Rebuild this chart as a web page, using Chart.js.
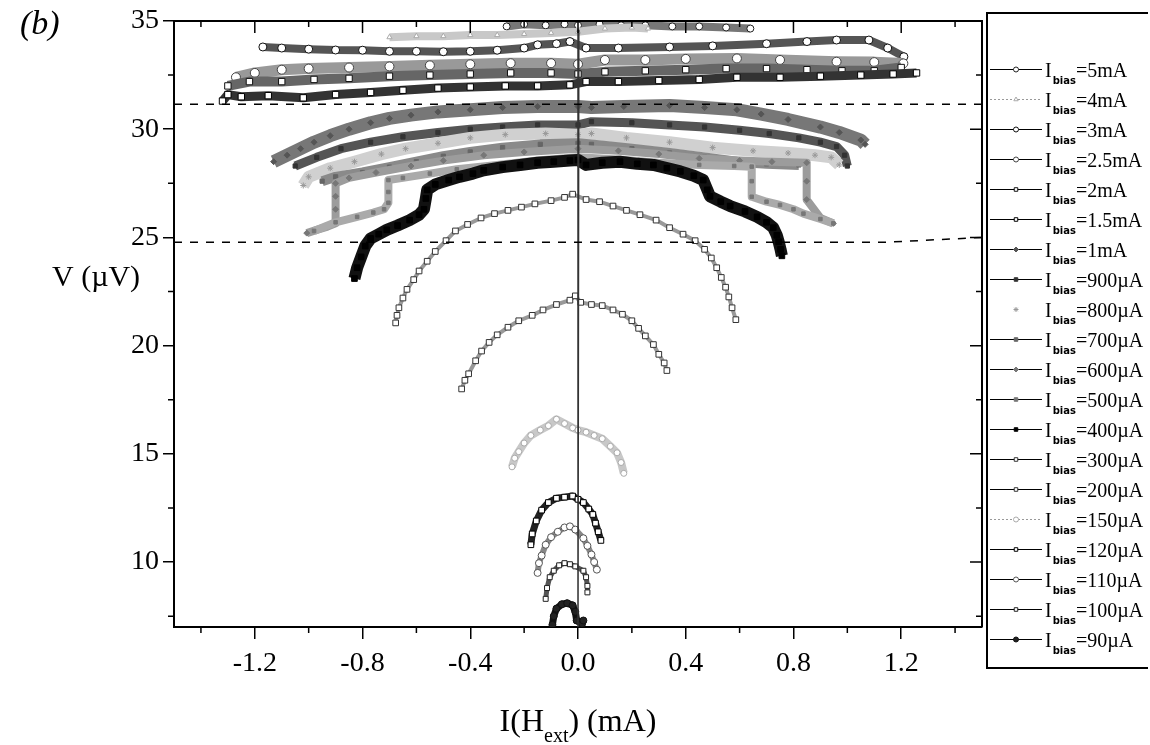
<!DOCTYPE html>
<html>
<head>
<meta charset="utf-8">
<title>V vs I(Hext)</title>
<script src="https://cdn.jsdelivr.net/npm/chart.js@4.4.1/dist/chart.umd.min.js"></script>
<style>
  html, body { margin: 0; padding: 0; background: #fff; }
</style>
</head>
<body>
<canvas id="chart" width="1150" height="745"></canvas>
<script>
// Axis ticks
const xTickValues = [-1.2, -0.8, -0.4, 0.0, 0.4, 0.8, 1.2]
const xMinorValues = [-1.4, -1.0, -0.6, -0.2, 0.2, 0.6, 1.0, 1.4]
const yTickValues = [10, 15, 20, 25, 30, 35]
const yMinorValues = [7.5, 12.5, 17.5, 22.5, 27.5, 32.5]

// Legend order (top to bottom)
const biasLabels = ["5mA", "4mA", "3mA", "2.5mA", "2mA", "1.5mA", "1mA", "900\u00b5A", "800\u00b5A", "700\u00b5A",
  "600\u00b5A", "500\u00b5A", "400\u00b5A", "300\u00b5A", "200\u00b5A", "150\u00b5A", "120\u00b5A", "110\u00b5A", "100\u00b5A", "90\u00b5A"]

// Series: [I(Hext) mA, V uV]
const ib5mA = [[-0.265, 34.75], [-0.2, 34.85], [-0.12, 34.8], [-0.05, 34.85], [0.0, 34.8], [0.08, 34.85], [0.16, 34.8],
  [0.25, 34.8], [0.35, 34.75], [0.45, 34.75], [0.55, 34.7], [0.64, 34.65]]
const ib4mA = [[-0.7, 34.25], [-0.6, 34.3], [-0.5, 34.3], [-0.4, 34.35], [-0.3, 34.35], [-0.2, 34.4], [-0.1, 34.45],
  [0.0, 34.5], [0.1, 34.65], [0.2, 34.7], [0.26, 34.65]]
const ib3mA = [[-1.17, 33.8], [-1.1, 33.75], [-1.0, 33.7], [-0.9, 33.66], [-0.8, 33.65], [-0.7, 33.6], [-0.6, 33.6],
  [-0.5, 33.58], [-0.4, 33.6], [-0.3, 33.65], [-0.2, 33.75], [-0.15, 33.9], [-0.08, 33.95], [-0.03, 34.05],
  [0.03, 33.75], [0.15, 33.75], [0.34, 33.8], [0.5, 33.85], [0.7, 33.95], [0.85, 34.05], [0.96, 34.12],
  [1.08, 34.12], [1.15, 33.75], [1.21, 33.35]]
const ib2_5mA = [[-1.27, 32.4], [-1.2, 32.6], [-1.1, 32.75], [-1.0, 32.8], [-0.85, 32.85], [-0.7, 32.9], [-0.55, 32.95],
  [-0.4, 33.0], [-0.25, 33.05], [-0.1, 33.05], [0.0, 33.0], [0.1, 33.2], [0.25, 33.2], [0.4, 33.25], [0.59, 33.27],
  [0.75, 33.2], [0.96, 33.12], [1.1, 33.1], [1.208, 33.04]]
const ib2mA = [[-1.3, 32.0], [-1.22, 32.2], [-1.1, 32.2], [-0.98, 32.3], [-0.85, 32.35], [-0.7, 32.45], [-0.55, 32.5],
  [-0.4, 32.55], [-0.25, 32.6], [-0.1, 32.6], [0.0, 32.55], [0.1, 32.65], [0.25, 32.7], [0.4, 32.75], [0.55, 32.8],
  [0.7, 32.8], [0.85, 32.75], [0.98, 32.7], [1.1, 32.7], [1.2, 32.85]]
const ib1_5mA = [[-1.32, 31.3], [-1.3, 31.6], [-1.25, 31.5], [-1.15, 31.55], [-1.02, 31.45], [-0.9, 31.6], [-0.77, 31.7],
  [-0.65, 31.8], [-0.52, 31.9], [-0.4, 31.95], [-0.27, 32.0], [-0.15, 32.0], [-0.03, 32.05], [0.03, 32.2],
  [0.15, 32.2], [0.3, 32.25], [0.45, 32.3], [0.59, 32.4], [0.75, 32.4], [0.9, 32.45], [1.05, 32.5], [1.17, 32.55],
  [1.257, 32.6]]
const ib1mA = [[-1.13, 28.5], [-1.08, 28.8], [-1.03, 29.1], [-0.98, 29.4], [-0.92, 29.7], [-0.85, 30.0], [-0.77, 30.3],
  [-0.7, 30.5], [-0.62, 30.65], [-0.52, 30.8], [-0.4, 30.9], [-0.28, 31.0], [-0.15, 31.05], [0.0, 31.05],
  [0.05, 31.0], [0.17, 31.05], [0.34, 31.1], [0.47, 31.0], [0.59, 30.9], [0.68, 30.7], [0.78, 30.45], [0.9, 30.1],
  [0.97, 29.85], [1.05, 29.5], [1.066, 29.3]]
const ib900 = [[-1.05, 28.3], [-0.97, 28.7], [-0.88, 29.1], [-0.77, 29.4], [-0.65, 29.65], [-0.52, 29.85], [-0.4, 30.0],
  [-0.28, 30.1], [-0.15, 30.2], [0.0, 30.2], [0.05, 30.35], [0.2, 30.3], [0.34, 30.2], [0.47, 30.1], [0.6, 29.95],
  [0.71, 29.8], [0.82, 29.6], [0.9, 29.4], [0.96, 29.2], [0.99, 28.8], [1.0, 28.3]]
const ib800 = [[-1.02, 27.4], [-1.0, 27.8], [-0.92, 28.2], [-0.83, 28.5], [-0.73, 28.85], [-0.64, 29.1], [-0.52, 29.35],
  [-0.4, 29.6], [-0.27, 29.75], [-0.12, 29.8], [0.0, 29.75], [0.05, 29.8], [0.18, 29.6], [0.34, 29.4], [0.5, 29.15],
  [0.65, 29.0], [0.78, 28.9], [0.88, 28.8], [0.94, 28.7], [0.97, 28.35]]
const ib700 = [[-0.95, 27.6], [-0.9, 27.8], [-0.8, 28.0], [-0.7, 28.25], [-0.6, 28.5], [-0.5, 28.75], [-0.4, 28.95],
  [-0.28, 29.15], [-0.14, 29.3], [0.0, 29.35], [0.05, 29.3], [0.2, 29.1], [0.34, 28.9], [0.47, 28.7], [0.59, 28.5],
  [0.7, 28.4], [0.82, 28.35]]
const ib600 = [[-1.007, 25.2], [-0.97, 25.35], [-0.93, 25.5], [-0.9, 25.65], [-0.9, 26.3], [-0.9, 26.9], [-0.9, 27.5],
  [-0.85, 27.75], [-0.75, 28.0], [-0.62, 28.3], [-0.5, 28.55], [-0.35, 28.8], [-0.2, 28.95], [0.0, 29.1],
  [0.15, 29.0], [0.3, 28.85], [0.45, 28.65], [0.6, 28.55], [0.72, 28.5], [0.849, 28.45], [0.849, 27.6],
  [0.849, 26.75], [0.9, 25.9], [0.948, 25.65]]
const ib500 = [[-0.98, 25.3], [-0.9, 25.7], [-0.82, 25.95], [-0.76, 26.15], [-0.72, 26.3], [-0.704, 26.6], [-0.704, 27.1],
  [-0.704, 27.65], [-0.65, 27.75], [-0.55, 27.95], [-0.45, 28.15], [-0.3, 28.35], [-0.15, 28.55], [0.0, 28.7],
  [0.15, 28.6], [0.3, 28.45], [0.45, 28.35], [0.58, 28.3], [0.645, 28.27], [0.645, 27.6], [0.645, 26.88],
  [0.7, 26.65], [0.75, 26.5], [0.8, 26.3], [0.837, 26.1], [0.9, 25.85], [0.948, 25.65]]
const ib400 = [[-0.83, 23.1], [-0.82, 23.6], [-0.805, 24.1], [-0.79, 24.6], [-0.77, 24.95], [-0.74, 25.15], [-0.71, 25.35],
  [-0.67, 25.55], [-0.625, 25.8], [-0.59, 26.05], [-0.572, 26.3], [-0.565, 26.8], [-0.56, 27.2], [-0.53, 27.45],
  [-0.48, 27.65], [-0.44, 27.8], [-0.39, 27.95], [-0.35, 28.1], [-0.28, 28.25], [-0.215, 28.35], [-0.15, 28.45],
  [-0.09, 28.5], [-0.03, 28.55], [0.0, 28.58], [0.03, 28.35], [0.09, 28.45], [0.156, 28.5], [0.22, 28.4],
  [0.28, 28.35], [0.33, 28.2], [0.38, 28.05], [0.43, 27.85], [0.465, 27.65], [0.48, 27.2], [0.49, 26.9],
  [0.53, 26.65], [0.565, 26.45], [0.62, 26.2], [0.665, 25.95], [0.7, 25.7], [0.725, 25.45], [0.738, 25.1],
  [0.745, 24.8], [0.752, 24.45], [0.757, 24.15]]
const ib300 = [[-0.677, 21.05], [-0.672, 21.4], [-0.665, 21.75], [-0.65, 22.2], [-0.635, 22.6], [-0.61, 23.05], [-0.59, 23.45],
  [-0.56, 23.9], [-0.53, 24.35], [-0.49, 24.85], [-0.455, 25.3], [-0.41, 25.6], [-0.36, 25.9], [-0.31, 26.1],
  [-0.26, 26.25], [-0.21, 26.4], [-0.16, 26.55], [-0.1, 26.7], [-0.05, 26.85], [-0.02, 27.0], [0.03, 26.75],
  [0.08, 26.65], [0.13, 26.45], [0.18, 26.25], [0.23, 26.05], [0.29, 25.8], [0.34, 25.45], [0.39, 25.15],
  [0.435, 24.85], [0.47, 24.45], [0.495, 24.05], [0.515, 23.6], [0.532, 23.15], [0.548, 22.7], [0.56, 22.25],
  [0.572, 21.75], [0.586, 21.2]]
const ib200 = [[-0.432, 18.0], [-0.42, 18.4], [-0.406, 18.7], [-0.38, 19.3], [-0.358, 19.75], [-0.33, 20.15], [-0.3, 20.5],
  [-0.26, 20.85], [-0.22, 21.15], [-0.17, 21.4], [-0.13, 21.65], [-0.08, 21.9], [-0.03, 22.1], [-0.01, 22.3],
  [0.01, 22.0], [0.05, 21.9], [0.09, 21.85], [0.13, 21.65], [0.165, 21.45], [0.2, 21.15], [0.225, 20.8],
  [0.25, 20.45], [0.28, 20.05], [0.3, 19.6], [0.32, 19.2], [0.33, 18.85]]
const ib150 = [[-0.245, 14.4], [-0.235, 14.8], [-0.22, 15.1], [-0.2, 15.5], [-0.175, 15.85], [-0.14, 16.1], [-0.11, 16.3],
  [-0.08, 16.6], [-0.05, 16.4], [-0.02, 16.2], [0.0, 16.1], [0.03, 16.0], [0.06, 15.85], [0.09, 15.7], [0.12, 15.35],
  [0.145, 15.05], [0.16, 14.6], [0.17, 14.1]]
const ib120 = [[-0.175, 10.8], [-0.17, 11.3], [-0.155, 11.9], [-0.135, 12.4], [-0.11, 12.75], [-0.08, 12.95], [-0.05, 13.0],
  [-0.02, 13.05], [0.0, 12.9], [0.02, 12.75], [0.04, 12.45], [0.055, 12.2], [0.065, 11.8], [0.075, 11.4], [0.085, 11.0]]
const ib110 = [[-0.15, 9.5], [-0.145, 9.95], [-0.135, 10.3], [-0.12, 10.8], [-0.1, 11.15], [-0.075, 11.4], [-0.05, 11.6],
  [-0.03, 11.65], [-0.01, 11.5], [0.02, 11.1], [0.035, 10.75], [0.05, 10.35], [0.06, 10.0], [0.07, 9.65]]
const ib100 = [[-0.12, 8.3], [-0.115, 8.8], [-0.105, 9.3], [-0.09, 9.6], [-0.07, 9.85], [-0.05, 9.95], [-0.03, 9.9],
  [-0.01, 9.8], [0.02, 9.6], [0.03, 9.3], [0.035, 8.9], [0.035, 8.6]]
const ib90 = [[-0.095, 7.1], [-0.09, 7.5], [-0.08, 7.85], [-0.06, 8.05], [-0.04, 8.1], [-0.02, 8.0], [-0.01, 7.7],
  [-0.005, 7.3], [0.015, 7.15], [0.02, 7.3]]

// Reference lines
const zeroLine = [[0.003, 34.6], [0.0, 7.0]]
const dashUpper = [[-1.5, 31.15], [1.5, 31.15]]
const dashLower = [[-1.5, 24.78], [1.15, 24.78], [1.5, 25.0]]

const series = [ib5mA, ib4mA, ib3mA, ib2_5mA, ib2mA, ib1_5mA, ib1mA, ib900, ib800, ib700,
  ib600, ib500, ib400, ib300, ib200, ib150, ib120, ib110, ib100, ib90]

// line colour, line width, marker, marker radius, marker fill, marker edge
const seriesStyle = [
  { line: "#777", w: 8, pt: "circle", r: 3.5, fill: "#fff", edge: "#222" },
  { line: "#c8c8c8", w: 8, pt: "triangle", r: 3, fill: "#fff", edge: "#aaa", dash: true },
  { line: "#555", w: 8, pt: "circle", r: 4, fill: "#fff", edge: "#111" },
  { line: "#999", w: 11, pt: "circle", r: 4.5, fill: "#fff", edge: "#444" },
  { line: "#666", w: 10, pt: "rect", r: 4.5, fill: "#fff", edge: "#111" },
  { line: "#333", w: 9, pt: "rect", r: 4.5, fill: "#fff", edge: "#000" },
  { line: "#777", w: 13, pt: "rectRot", r: 3, fill: "#555", edge: "#555" },
  { line: "#555", w: 9, pt: "rect", r: 3, fill: "#333", edge: "#333" },
  { line: "#d0d0d0", w: 12, pt: "star", r: 3, fill: "#999", edge: "#999", noLegendLine: true },
  { line: "#8a8a8a", w: 10, pt: "rect", r: 3, fill: "#666", edge: "#666" },
  { line: "#9c9c9c", w: 8, pt: "rectRot", r: 3, fill: "#777", edge: "#777" },
  { line: "#aaa", w: 8, pt: "rect", r: 2.5, fill: "#777", edge: "#777" },
  { line: "#111", w: 12, pt: "rect", r: 4, fill: "#000", edge: "#000" },
  { line: "#999", w: 4, pt: "rect", r: 4, fill: "#fff", edge: "#333" },
  { line: "#999", w: 4, pt: "rect", r: 4, fill: "#fff", edge: "#333" },
  { line: "#c8c8c8", w: 8, pt: "circle", r: 3, fill: "#fff", edge: "#aaa", dash: true },
  { line: "#222", w: 7, pt: "rect", r: 4, fill: "#fff", edge: "#000" },
  { line: "#888", w: 6, pt: "circle", r: 3.5, fill: "#fff", edge: "#555" },
  { line: "#555", w: 5, pt: "rect", r: 3.5, fill: "#fff", edge: "#222" },
  { line: "#111", w: 7, pt: "circle", r: 3.5, fill: "#222", edge: "#111" },
]

const toXY = (arr) => arr.map(([x, y]) => ({ x, y }))

const datasets = series.map((data, i) => ({
  label: "Ibias=" + biasLabels[i],
  data: toXY(data),
  showLine: true,
  borderColor: seriesStyle[i].line,
  borderWidth: seriesStyle[i].w,
  borderJoinStyle: "round",
  pointStyle: seriesStyle[i].pt,
  pointRadius: seriesStyle[i].r,
  pointBackgroundColor: seriesStyle[i].fill,
  pointBorderColor: seriesStyle[i].edge,
  pointBorderWidth: 1,
  order: 20 - i,
}))

datasets.push(
  { label: "zero", data: toXY(zeroLine), showLine: true, borderColor: "#333", borderWidth: 1.5, pointRadius: 0, order: -1 },
  { label: "upper", data: toXY(dashUpper), showLine: true, borderColor: "#000", borderWidth: 1.5, borderDash: [8, 8], pointRadius: 0, order: -2 },
  { label: "lower", data: toXY(dashLower), showLine: true, borderColor: "#000", borderWidth: 1.5, borderDash: [8, 8], pointRadius: 0, order: -2 },
)

const SERIF = "'Liberation Serif', 'Times New Roman', serif"

// Frame, mirrored ticks, axis titles and legend
const framePlugin = {
  id: "frame",
  afterDraw(chart) {
    const { ctx, chartArea: a, scales: { x, y } } = chart
    ctx.save()
    ctx.strokeStyle = "#000"
    ctx.lineWidth = 2
    ctx.beginPath()
    ctx.moveTo(a.left, a.top)
    ctx.lineTo(a.right, a.top)
    ctx.lineTo(a.right, a.bottom)
    ctx.stroke()

    ctx.lineWidth = 1.5
    ctx.beginPath()
    xMinorValues.forEach((v) => {
      const px = x.getPixelForValue(v)
      ctx.moveTo(px, a.bottom); ctx.lineTo(px, a.bottom + 6)
      ctx.moveTo(px, a.top); ctx.lineTo(px, a.top + 6)
    })
    xTickValues.forEach((v) => {
      const px = x.getPixelForValue(v)
      ctx.moveTo(px, a.top); ctx.lineTo(px, a.top + 12)
    })
    yMinorValues.forEach((v) => {
      const py = y.getPixelForValue(v)
      ctx.moveTo(a.left, py); ctx.lineTo(a.left - 6, py)
      ctx.moveTo(a.right, py); ctx.lineTo(a.right - 6, py)
    })
    yTickValues.forEach((v) => {
      const py = y.getPixelForValue(v)
      ctx.moveTo(a.right, py); ctx.lineTo(a.right - 12, py)
    })
    ctx.stroke()

    // axis titles
    ctx.fillStyle = "#000"
    ctx.textBaseline = "alphabetic"
    ctx.textAlign = "left"
    ctx.font = "30px " + SERIF
    ctx.fillText("V (\u00b5V)", 52, 286)

    ctx.font = "italic 34px " + SERIF
    ctx.fillText("(b)", 20, 34)

    const main = "32px " + SERIF
    const sub = "20px " + SERIF
    ctx.font = main
    const w1 = ctx.measureText("I(H").width
    const w3 = ctx.measureText(") (mA)").width
    ctx.font = sub
    const w2 = ctx.measureText("ext").width
    const tx = (a.left + a.right) / 2 - (w1 + w2 + w3) / 2
    ctx.font = main
    ctx.fillText("I(H", tx, 731)
    ctx.font = sub
    ctx.fillText("ext", tx + w1, 742)
    ctx.font = main
    ctx.fillText(") (mA)", tx + w1 + w2, 731)

    // legend box
    ctx.lineWidth = 2
    ctx.beginPath()
    ctx.moveTo(1148, 13); ctx.lineTo(987, 13); ctx.lineTo(987, 668); ctx.lineTo(1148, 668)
    ctx.stroke()

    const drawPoint = Chart.helpers && Chart.helpers.drawPoint
    biasLabels.forEach((lab, i) => {
      const st = seriesStyle[i]
      const ly = Math.round(69 + i * 30) + 0.5
      if (!st.noLegendLine) {
        ctx.strokeStyle = st.dash ? "#999" : "#000"
        ctx.lineWidth = 1
        ctx.setLineDash(st.dash ? [2, 2] : [])
        ctx.beginPath()
        ctx.moveTo(990, ly); ctx.lineTo(1042, ly)
        ctx.stroke()
        ctx.setLineDash([])
      }
      ctx.fillStyle = st.fill
      ctx.strokeStyle = st.edge
      ctx.lineWidth = 1
      if (drawPoint) {
        drawPoint(ctx, { pointStyle: st.pt, rotation: 0, radius: 2.5, borderWidth: 1 }, 1016, ly)
      } else {
        ctx.fillRect(1013.5, ly - 2.5, 5, 5)
        ctx.strokeRect(1013.5, ly - 2.5, 5, 5)
      }
      ctx.fillStyle = "#000"
      ctx.font = "20px " + SERIF
      ctx.fillText("I", 1045, ly + 7)
      const iw = ctx.measureText("I").width
      ctx.font = "bold 10px 'DejaVu Sans', sans-serif"
      ctx.fillText("bias", 1045 + iw + 1, ly + 14)
      const bw = ctx.measureText("bias").width
      ctx.font = "20px " + SERIF
      ctx.fillText("=" + lab, 1045 + iw + bw + 1, ly + 7)
    })
    ctx.restore()
  },
}

new Chart(document.getElementById("chart"), {
  type: "scatter",
  data: { datasets },
  options: {
    responsive: false,
    animation: false,
    events: [],
    layout: { padding: { top: 21, right: 168, left: 0, bottom: 0 } },
    plugins: { legend: { display: false }, tooltip: { enabled: false } },
    scales: {
      x: {
        type: "linear",
        min: -1.5,
        max: 1.5,
        afterBuildTicks: (axis) => { axis.ticks = xTickValues.map((v) => ({ value: v })) },
        afterFit: (axis) => { axis.height = 118 },
        ticks: {
          color: "#000",
          font: { family: SERIF, size: 28 },
          padding: 8,
          maxRotation: 0,
          callback: (v) => Number(v).toFixed(1),
        },
        grid: { display: true, drawOnChartArea: false, drawTicks: true, tickLength: 12, color: "#000", lineWidth: 1.5 },
        border: { display: true, color: "#000", width: 2 },
      },
      y: {
        type: "linear",
        min: 7,
        max: 35,
        afterBuildTicks: (axis) => { axis.ticks = yTickValues.map((v) => ({ value: v })) },
        afterFit: (axis) => { axis.width = 174 },
        ticks: {
          color: "#000",
          font: { family: SERIF, size: 28 },
          padding: 4,
          callback: (v) => String(v),
        },
        grid: { display: true, drawOnChartArea: false, drawTicks: true, tickLength: 11, color: "#000", lineWidth: 1.5 },
        border: { display: true, color: "#000", width: 2 },
      },
    },
  },
  plugins: [framePlugin],
})
</script>
</body>
</html>
